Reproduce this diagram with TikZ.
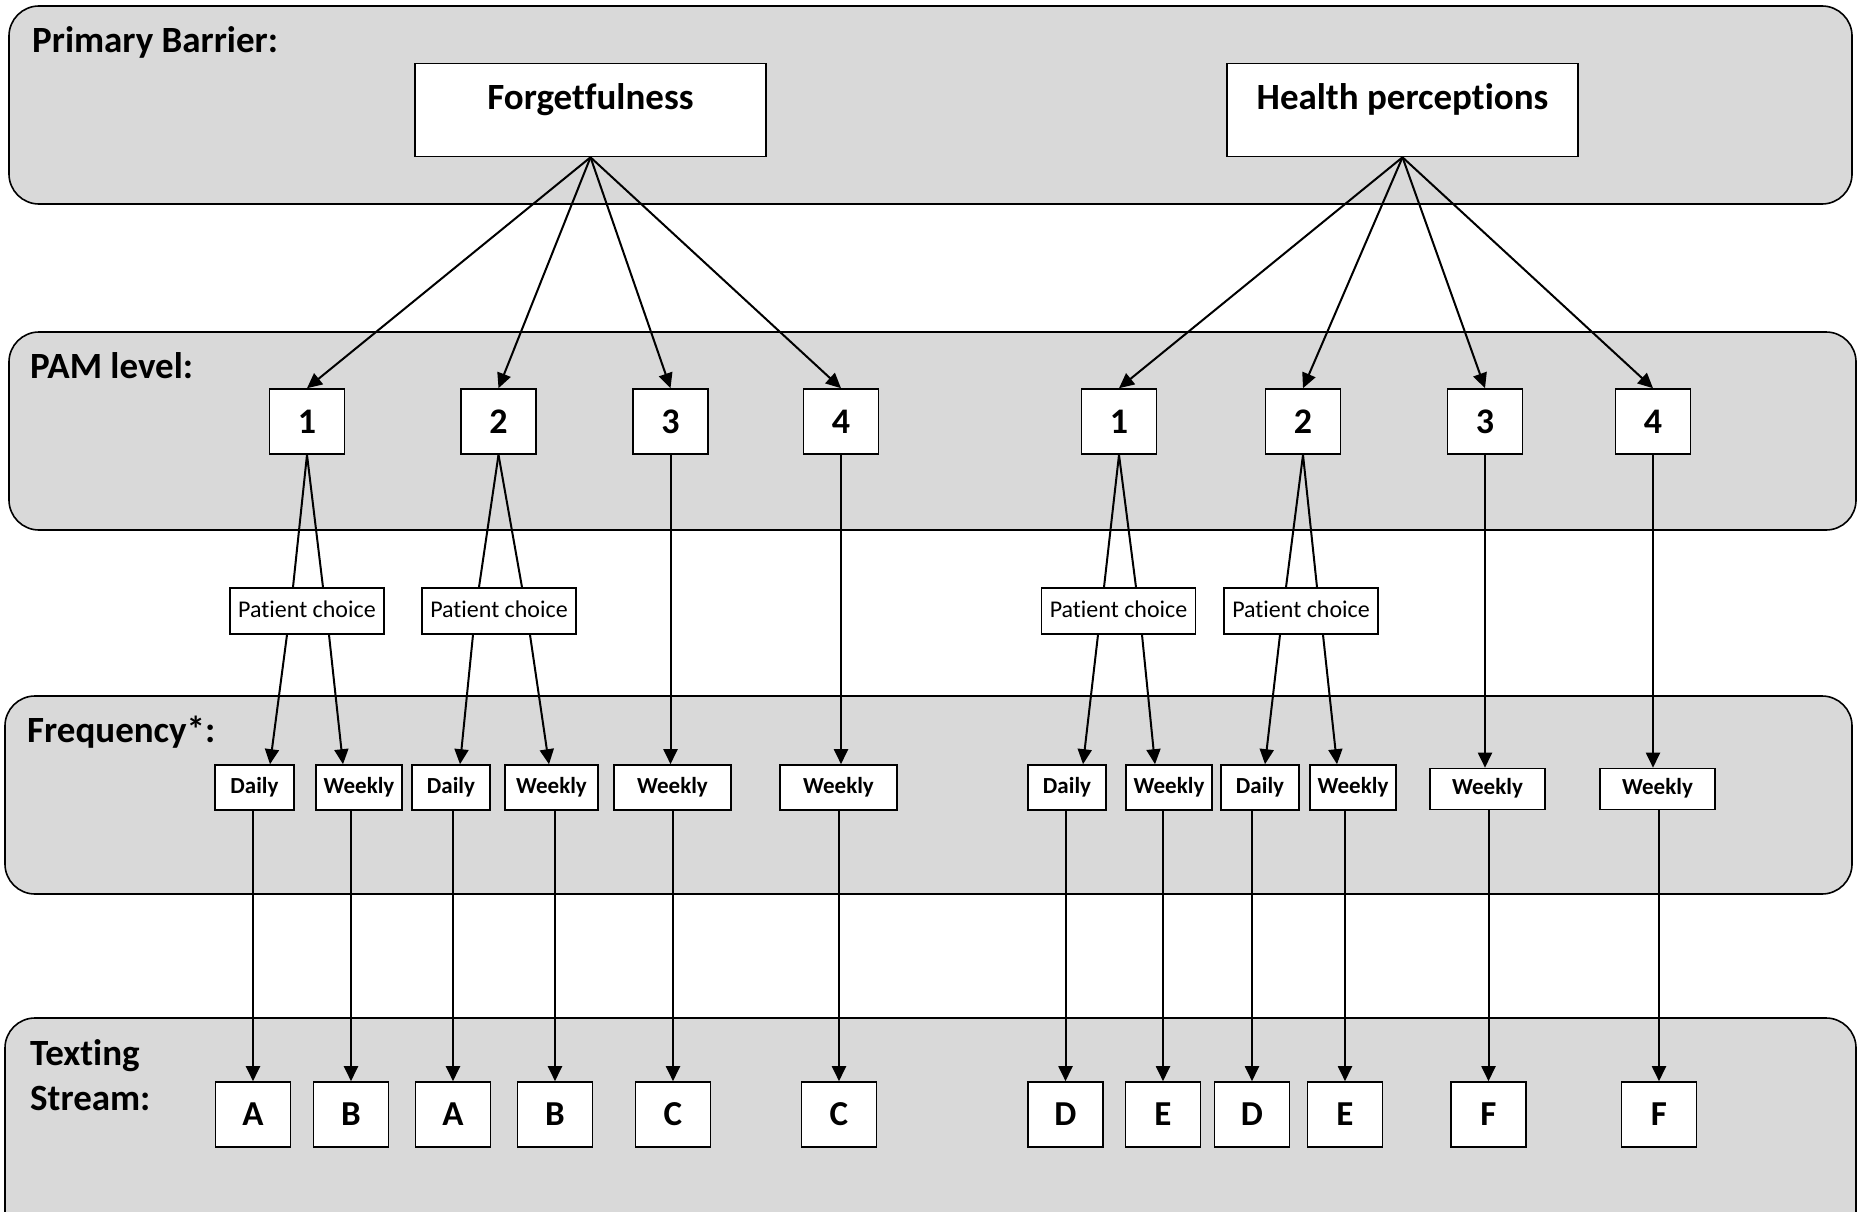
\documentclass[tikz,border=0pt]{standalone}
\usepackage{fontspec}
\setmainfont{Carlito}[RawFeature={-liga;-clig;-calt;-dlig}]
\usetikzlibrary{arrows.meta}
\definecolor{bandgray}{RGB}{217,217,217}
\begin{document}
\begin{tikzpicture}[x=1pt,y=-1pt,
  band/.style={draw, line width=1.6pt, fill=bandgray, rounded corners=30pt},
  box/.style={draw, fill=white, line width=1.6pt, inner sep=0pt},
  topbox/.style={box, minimum width=351pt, minimum height=93pt, text height=24pt, text depth=24pt, font=\fontsize{37}{40}\selectfont\bfseries},
  pam/.style={box, minimum width=75pt, minimum height=65pt, font=\fontsize{36}{40}\selectfont\bfseries},
  choice/.style={box, minimum width=154pt, minimum height=46pt, text height=17pt, text depth=5pt, font=\fontsize{24}{28}\selectfont},
  freq/.style={box, minimum height=45pt, text height=16pt, text depth=5pt, font=\fontsize{23}{27}\selectfont\bfseries},
  letter/.style={box, minimum width=75pt, minimum height=65pt, font=\fontsize{35}{40}\selectfont\bfseries},
  lbl/.style={inner sep=0pt, font=\fontsize{37}{45}\selectfont\bfseries, align=left},
  conn/.style={line width=2pt},
  arr/.style={conn, -{Triangle[length=15pt,width=14pt]}}]
\useasboundingbox (0,0) rectangle (1860,1212);
\begin{scope}
\clip (0,0) rectangle (1860,1212);
\draw[band] (9,6) rectangle (1852,204);
\draw[band] (9,332) rectangle (1856,530);
\draw[band] (5,696) rectangle (1852,894);
\draw[band] (5,1018) rectangle (1856,1250);
\end{scope}

% section labels
\node[lbl, anchor=base west] (l1) at (32,53) {Primary Barrier:};
\node[lbl, anchor=base west] (l2) at (30,378) {PAM level:};
\node[lbl, anchor=base west] (l3) at (27,742) {Frequency*:};
\node[lbl, anchor=north west] (l4) at (30,1039) {Texting\\Stream:};

% barriers
\node[topbox] (forg) at (590.5,110) {Forgetfulness};
\node[topbox] (hp) at (1402.5,110) {Health perceptions};

% PAM levels
\node[pam] (p1) at (307,421.5) {1};
\node[pam] (p2) at (498.5,421.5) {2};
\node[pam] (p3) at (670.5,421.5) {3};
\node[pam] (p4) at (841,421.5) {4};
\node[pam] (q1) at (1119,421.5) {1};
\node[pam] (q2) at (1303,421.5) {2};
\node[pam] (q3) at (1485,421.5) {3};
\node[pam] (q4) at (1653,421.5) {4};

% patient choice
\node[choice] (pc1) at (307,611) {Patient choice};
\node[choice] (pc2) at (499,611) {Patient choice};
\node[choice] (pc3) at (1118.5,611) {Patient choice};
\node[choice] (pc4) at (1301,611) {Patient choice};

% frequency
\node[freq, minimum width=79pt] (d1) at (254.5,787.5) {Daily};
\node[freq, minimum width=86pt] (w1) at (359,787.5) {Weekly};
\node[freq, minimum width=78pt] (d2) at (451,787.5) {Daily};
\node[freq, minimum width=93pt] (w2) at (551.5,787.5) {Weekly};
\node[freq, minimum width=117pt] (w3) at (672.5,787.5) {Weekly};
\node[freq, minimum width=117pt] (w4) at (838.5,787.5) {Weekly};
\node[freq, minimum width=78pt] (d3) at (1067,787.5) {Daily};
\node[freq, minimum width=86pt] (w5) at (1169,787.5) {Weekly};
\node[freq, minimum width=78pt] (d4) at (1260,787.5) {Daily};
\node[freq, minimum width=86pt] (w6) at (1353,787.5) {Weekly};
\node[freq, minimum width=115pt, minimum height=41pt] (w7) at (1487.5,789) {Weekly};
\node[freq, minimum width=115pt, minimum height=41pt] (w8) at (1657.5,789) {Weekly};

% texting streams
\node[letter] (a1) at (253,1114.5) {A};
\node[letter] (b1) at (351,1114.5) {B};
\node[letter] (a2) at (453,1114.5) {A};
\node[letter] (b2) at (555,1114.5) {B};
\node[letter] (c1) at (673,1114.5) {C};
\node[letter] (c2) at (839,1114.5) {C};
\node[letter] (e1d) at (1065.5,1114.5) {D};
\node[letter] (e1e) at (1163,1114.5) {E};
\node[letter] (e2d) at (1252,1114.5) {D};
\node[letter] (e2e) at (1345,1114.5) {E};
\node[letter] (f1) at (1488.5,1114.5) {F};
\node[letter] (f2) at (1659,1114.5) {F};

% barrier -> PAM
\foreach \t in {p1,p2,p3,p4} \draw[arr] (forg.south) -- (\t.north);
\foreach \t in {q1,q2,q3,q4} \draw[arr] (hp.south) -- (\t.north);

% PAM -> patient choice
\draw[conn] (p1.south) -- ([xshift=-14pt]pc1.north);
\draw[conn] (p1.south) -- ([xshift=16pt]pc1.north);
\draw[conn] (p2.south) -- ([xshift=-20pt]pc2.north);
\draw[conn] (p2.south) -- ([xshift=23pt]pc2.north);
\draw[conn] (q1.south) -- ([xshift=-14.5pt]pc3.north);
\draw[conn] (q1.south) -- ([xshift=17.5pt]pc3.north);
\draw[conn] (q2.south) -- ([xshift=-15pt]pc4.north);
\draw[conn] (q2.south) -- ([xshift=16pt]pc4.north);

% patient choice -> frequency
\draw[arr] ([xshift=-20pt]pc1.south) -- ([xshift=15.5pt]d1.north);
\draw[arr] ([xshift=22pt]pc1.south) -- ([xshift=-16pt]w1.north);
\draw[arr] ([xshift=-26pt]pc2.south) -- ([xshift=9pt]d2.north);
\draw[arr] ([xshift=31pt]pc2.south) -- ([xshift=-2.5pt]w2.north);
\draw[arr] ([xshift=-20.5pt]pc3.south) -- ([xshift=16pt]d3.north);
\draw[arr] ([xshift=23.5pt]pc3.south) -- ([xshift=-14pt]w5.north);
\draw[arr] ([xshift=-21pt]pc4.south) -- ([xshift=5pt]d4.north);
\draw[arr] ([xshift=22pt]pc4.south) -- ([xshift=-16pt]w6.north);

% PAM 3/4 -> weekly
\draw[arr] (p3.south) -- (p3.south |- w3.north);
\draw[arr] (p4.south) -- (p4.south |- w4.north);
\draw[arr] (q3.south) -- (q3.south |- w7.north);
\draw[arr] (q4.south) -- (q4.south |- w8.north);

% frequency -> texting stream
\draw[arr] (a1.north |- d1.south) -- (a1.north);
\draw[arr] (b1.north |- w1.south) -- (b1.north);
\draw[arr] (a2.north |- d2.south) -- (a2.north);
\draw[arr] (b2.north |- w2.south) -- (b2.north);
\draw[arr] (c1.north |- w3.south) -- (c1.north);
\draw[arr] (c2.north |- w4.south) -- (c2.north);
\draw[arr] (e1d.north |- d3.south) -- (e1d.north);
\draw[arr] (e1e.north |- w5.south) -- (e1e.north);
\draw[arr] (e2d.north |- d4.south) -- (e2d.north);
\draw[arr] (e2e.north |- w6.south) -- (e2e.north);
\draw[arr] (f1.north |- w7.south) -- (f1.north);
\draw[arr] (f2.north |- w8.south) -- (f2.north);
\end{tikzpicture}
\end{document}
